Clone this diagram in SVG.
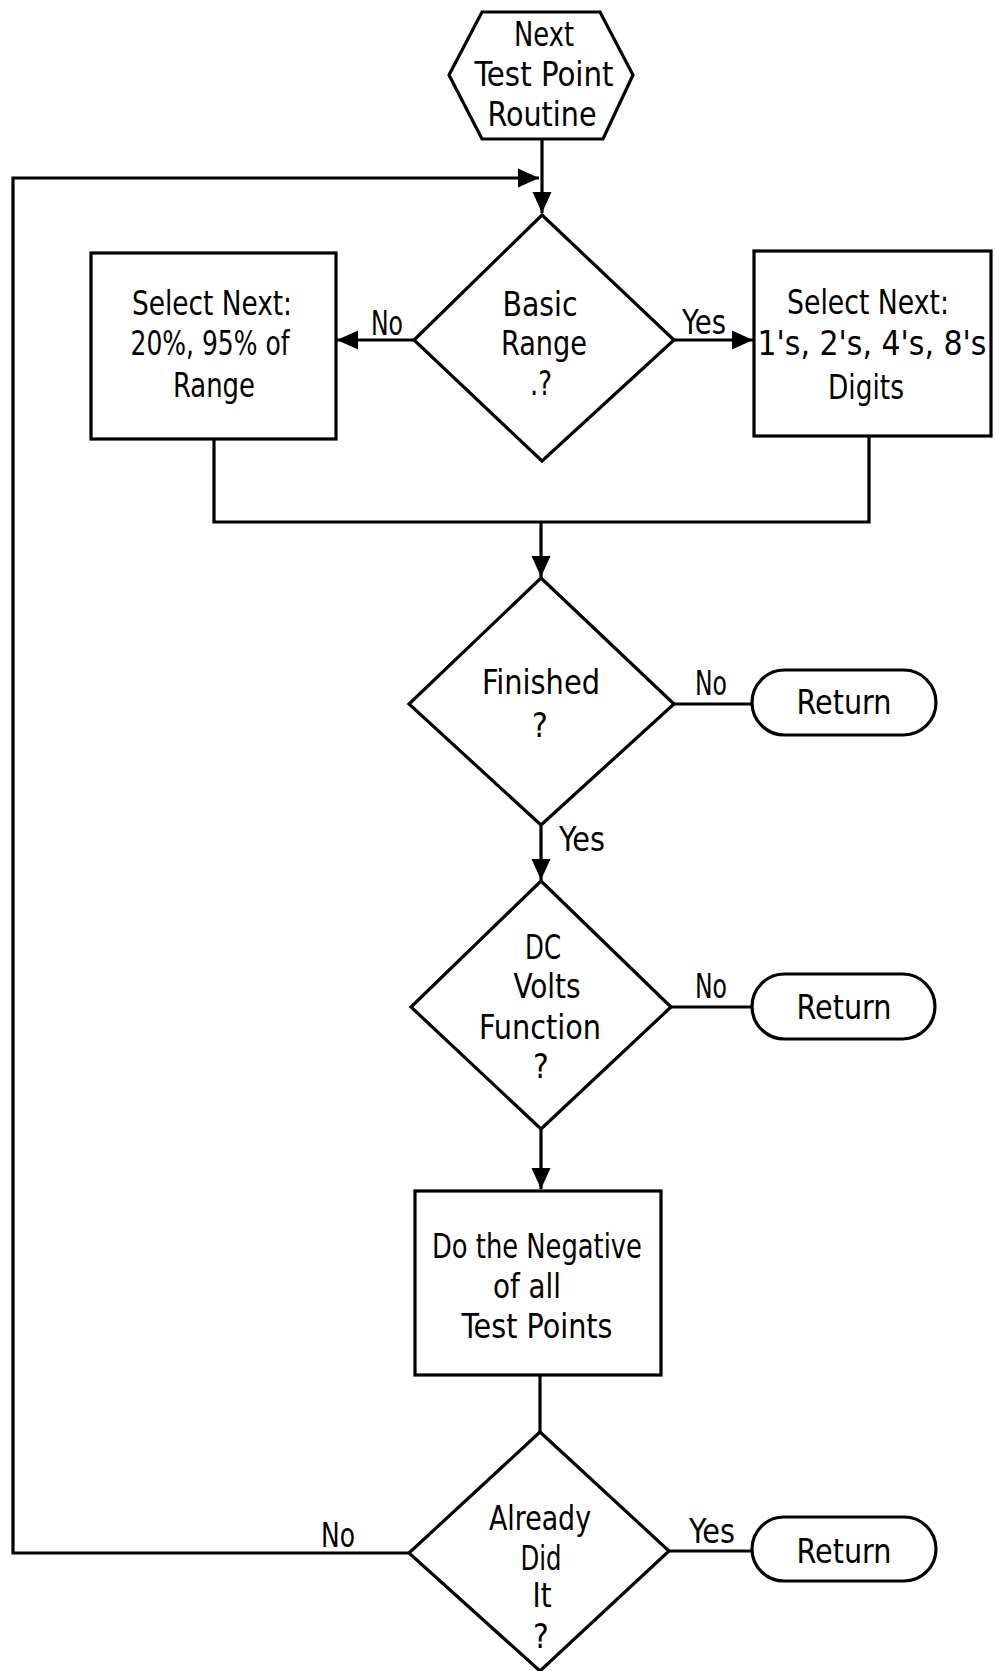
<svg xmlns="http://www.w3.org/2000/svg" width="995" height="1671" viewBox="0 0 995 1671">
  <style>
    .shape { fill: #fff; stroke: #000; stroke-width: 3.2; stroke-linejoin: miter; }
    .wire { fill: none; stroke: #000; stroke-width: 3.2; }
    .t { font-family: "DejaVu Sans Condensed", "Liberation Sans Narrow", "Liberation Sans", sans-serif; font-size: 33px; text-anchor: middle; fill: #000; }
  </style>
  <defs>
    <marker id="arrow" markerUnits="userSpaceOnUse" markerWidth="22" markerHeight="22" viewBox="0 0 22 22" refX="21" refY="11" orient="auto">
      <path d="M0,1.5 L21,11 L0,20.5 Z" fill="#000"/>
    </marker>
  </defs>
  <rect width="995" height="1671" fill="#fff"/>

  <!-- connectors -->
  <g id="connectors">
    <path class="wire" d="M542,139 V213" marker-end="url(#arrow)"/>
    <path class="wire" d="M409,1553 H13 V178 H539" marker-end="url(#arrow)"/>
    <path class="wire" d="M414,340 H337" marker-end="url(#arrow)"/>
    <path class="wire" d="M674,340 H753" marker-end="url(#arrow)"/>
    <path class="wire" d="M214,439 V522 H869 V436"/>
    <path class="wire" d="M541,522 V577" marker-end="url(#arrow)"/>
    <path class="wire" d="M674,704 H752"/>
    <path class="wire" d="M541,825 V880" marker-end="url(#arrow)"/>
    <path class="wire" d="M671,1007 H752"/>
    <path class="wire" d="M541,1129 V1189" marker-end="url(#arrow)"/>
    <path class="wire" d="M540,1375 V1432"/>
    <path class="wire" d="M669,1551 H752"/>
  </g>

  <!-- branch labels -->
  <g id="labels">
    <text class="t" x="387" y="335" textLength="32" lengthAdjust="spacingAndGlyphs">No</text>
    <text class="t" x="704" y="334" textLength="44" lengthAdjust="spacingAndGlyphs">Yes</text>
    <text class="t" x="711" y="695" textLength="32" lengthAdjust="spacingAndGlyphs">No</text>
    <text class="t" x="582" y="851" textLength="46" lengthAdjust="spacingAndGlyphs">Yes</text>
    <text class="t" x="711" y="998" textLength="32" lengthAdjust="spacingAndGlyphs">No</text>
    <text class="t" x="338" y="1547" textLength="34" lengthAdjust="spacingAndGlyphs">No</text>
    <text class="t" x="712" y="1543" textLength="46" lengthAdjust="spacingAndGlyphs">Yes</text>
  </g>

  <!-- entry point -->
  <g id="start">
    <polygon class="shape" points="482,12 600,12 633,75 603,139 482,139 449,75"/>
    <text class="t" x="544" y="46" textLength="60" lengthAdjust="spacingAndGlyphs">Next</text>
    <text class="t" x="544" y="86" textLength="139" lengthAdjust="spacingAndGlyphs">Test Point</text>
    <text class="t" x="542" y="126" textLength="109" lengthAdjust="spacingAndGlyphs">Routine</text>
  </g>

  <g id="basic-range">
    <polygon class="shape" points="542,215 674,340 542,461 414,340"/>
    <text class="t" x="540" y="316" textLength="75" lengthAdjust="spacingAndGlyphs">Basic</text>
    <text class="t" x="544" y="355" textLength="86" lengthAdjust="spacingAndGlyphs">Range</text>
    <text class="t" x="541" y="395" textLength="22" lengthAdjust="spacingAndGlyphs">.?</text>
  </g>

  <g id="select-percent">
    <rect class="shape" x="91" y="253" width="245" height="186"/>
    <text class="t" x="212" y="315" textLength="160" lengthAdjust="spacingAndGlyphs">Select Next:</text>
    <text class="t" x="210" y="355" textLength="159" lengthAdjust="spacingAndGlyphs">20%, 95% of</text>
    <text class="t" x="214" y="397" textLength="82" lengthAdjust="spacingAndGlyphs">Range</text>
  </g>

  <g id="select-digits">
    <rect class="shape" x="754" y="251" width="237" height="185"/>
    <text class="t" x="868" y="314" textLength="162" lengthAdjust="spacingAndGlyphs">Select Next:</text>
    <text class="t" x="872" y="355" textLength="229" lengthAdjust="spacingAndGlyphs">1's, 2's, 4's, 8's</text>
    <text class="t" x="866" y="399" textLength="76" lengthAdjust="spacingAndGlyphs">Digits</text>
  </g>

  <g id="finished">
    <polygon class="shape" points="541,578 674,704 541,825 409,704"/>
    <text class="t" x="541" y="694" textLength="118" lengthAdjust="spacingAndGlyphs">Finished</text>
    <text class="t" x="540" y="737">?</text>
  </g>

  <g id="return-1">
    <rect class="shape" x="752" y="670" width="184" height="65" rx="32.5" ry="32.5"/>
    <text class="t" x="844" y="714" textLength="95" lengthAdjust="spacingAndGlyphs">Return</text>
  </g>

  <g id="dc-volts">
    <polygon class="shape" points="541,881 671,1007 541,1129 411,1007"/>
    <text class="t" x="543" y="959" textLength="36" lengthAdjust="spacingAndGlyphs">DC</text>
    <text class="t" x="547" y="998" textLength="67" lengthAdjust="spacingAndGlyphs">Volts</text>
    <text class="t" x="540" y="1039" textLength="122" lengthAdjust="spacingAndGlyphs">Function</text>
    <text class="t" x="541" y="1078">?</text>
  </g>

  <g id="return-2">
    <rect class="shape" x="752" y="974" width="183" height="65" rx="32.5" ry="32.5"/>
    <text class="t" x="844" y="1019" textLength="95" lengthAdjust="spacingAndGlyphs">Return</text>
  </g>

  <g id="negate">
    <rect class="shape" x="415" y="1191" width="246" height="184"/>
    <text class="t" x="537" y="1258" textLength="210" lengthAdjust="spacingAndGlyphs">Do the Negative</text>
    <text class="t" x="527" y="1298" textLength="68" lengthAdjust="spacingAndGlyphs">of all</text>
    <text class="t" x="537" y="1338" textLength="151" lengthAdjust="spacingAndGlyphs">Test Points</text>
  </g>

  <g id="already-did">
    <polygon class="shape" points="540,1432 669,1551 540,1671 409,1553"/>
    <text class="t" x="540" y="1530" textLength="102" lengthAdjust="spacingAndGlyphs">Already</text>
    <text class="t" x="541" y="1570" textLength="41" lengthAdjust="spacingAndGlyphs">Did</text>
    <text class="t" x="542" y="1607" textLength="19" lengthAdjust="spacingAndGlyphs">It</text>
    <text class="t" x="541" y="1648">?</text>
  </g>

  <g id="return-3">
    <rect class="shape" x="752" y="1517" width="184" height="64" rx="32" ry="32"/>
    <text class="t" x="844" y="1563" textLength="95" lengthAdjust="spacingAndGlyphs">Return</text>
  </g>
</svg>
